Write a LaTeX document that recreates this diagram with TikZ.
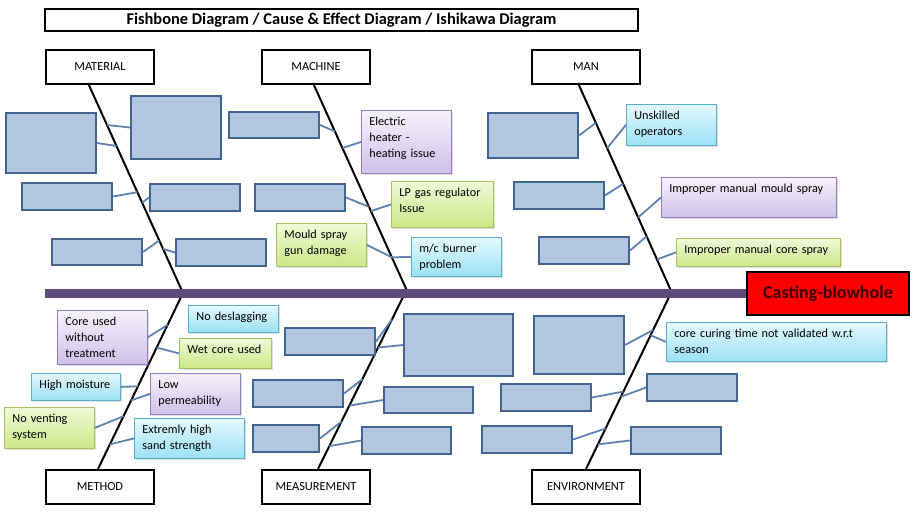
\documentclass[tikz,border=0pt]{standalone}
\usepackage{fontspec}
\setmainfont{Carlito}
\usetikzlibrary{calc,shadows}

\definecolor{holdfill}{RGB}{179,198,224}
\definecolor{holdline}{RGB}{65,100,145}
\definecolor{twigcol}{RGB}{95,130,175}
\definecolor{spinecol}{RGB}{95,75,125}
\definecolor{putop}{RGB}{246,242,252}
\definecolor{pubot}{RGB}{207,192,233}
\definecolor{puline}{RGB}{150,125,190}
\definecolor{grtop}{RGB}{240,250,215}
\definecolor{grbot}{RGB}{202,232,135}
\definecolor{grline}{RGB}{165,195,95}
\definecolor{cytop}{RGB}{228,249,254}
\definecolor{cybot}{RGB}{155,225,246}
\definecolor{cyline}{RGB}{90,175,205}
\definecolor{effcol}{RGB}{255,0,0}
\definecolor{efftext}{RGB}{60,0,0}

\tikzset{
    hold/.style 2 args={draw=holdline, fill=holdfill, line width=2pt, anchor=north west,
        inner sep=0pt, minimum width=#1pt, minimum height=#2pt},
    tbox/.style n args={3}{draw=#1line, top color=#1top, bottom color=#1bot, line width=0.8pt,
        anchor=north west, align=left, inner xsep=8pt, inner ysep=3pt,
        text width=#2pt-16pt, minimum height=#3pt, text height=12pt, text depth=#3pt-18pt,
        drop shadow={opacity=0.25, shadow xshift=1.5pt, shadow yshift=-1.5pt}},
    cat/.style={draw, line width=2pt, fill=white, anchor=north west, inner sep=0pt,
        minimum width=108pt, minimum height=34pt, font=\fontsize{12.4}{15}\selectfont},
    bone/.style={line width=2pt},
    twig/.style={draw=twigcol, line width=1.8pt},
}

\begin{document}
\begin{tikzpicture}[x=1pt, y=-1pt, font=\fontsize{12.2}{16}\selectfont]
    \useasboundingbox (0,0) rectangle (919,517);

    \node[draw, line width=2pt, minimum width=593pt, minimum height=22pt, inner sep=0pt,
        font=\fontsize{16.4}{18}\bfseries] (title) at (341.5,20)
        {Fishbone Diagram / Cause \& Effect Diagram / Ishikawa Diagram};

    \node[cat] (mat) at (45,49) {MATERIAL};
    \node[cat] (mac) at (261,49) {MACHINE};
    \node[cat] (man) at (531,49) {MAN};
    \node[cat] (met) at (45,469) {METHOD};
    \node[cat] (mea) at (261,469) {MEASUREMENT};
    \node[cat] (env) at (531,469) {ENVIRONMENT};

    \coordinate (mat1) at (88,83);   \coordinate (mat2) at (183,293);
    \coordinate (mac1) at (313,83);  \coordinate (mac2) at (408,293);
    \coordinate (man1) at (578,83);  \coordinate (man2) at (672,293);
    \coordinate (met1) at (183,293); \coordinate (met2) at (98,469);
    \coordinate (mea1) at (405,293); \coordinate (mea2) at (318,469);
    \coordinate (env1) at (671,293); \coordinate (env2) at (586,469);
    \coordinate (tail) at (45,293.5);

    \draw[bone] (mat1) -- (mat2);
    \draw[bone] (mac1) -- (mac2);
    \draw[bone] (man1) -- (man2);
    \draw[bone] (met1) -- (met2);
    \draw[bone] (mea1) -- (mea2);
    \draw[bone] (env1) -- (env2);

    \node[draw, line width=2pt, fill=effcol, minimum width=162pt, minimum height=43pt,
        inner sep=0pt, text=efftext, font=\fontsize{18}{20}\bfseries] (eff) at (828,293.5)
        {Casting-blowhole};
    \draw[draw=spinecol, line width=8.5pt] (tail) -- (eff.west);

    \node[hold={90}{60}] (b1) at (5,112) {};
    \node[hold={90}{63}] (b2) at (130,95) {};
    \node[hold={90}{26}] (b3) at (228,111) {};
    \node[hold={90}{27}] (b4) at (21,182) {};
    \node[hold={90}{27}] (b5) at (149,183) {};
    \node[hold={90}{27}] (b6) at (254,183) {};
    \node[hold={90}{26}] (b7) at (51,238) {};
    \node[hold={90}{27}] (b8) at (175,238) {};
    \node[hold={90}{45}] (b9) at (487,112) {};
    \node[hold={90}{27}] (b10) at (513,181) {};
    \node[hold={90}{27}] (b11) at (538,236) {};
    \node[hold={90}{27}] (b12) at (284,327) {};
    \node[hold={109}{62}] (b13) at (403,313) {};
    \node[hold={90}{27}] (b14) at (252,379) {};
    \node[hold={89}{26}] (b15) at (383,386) {};
    \node[hold={66}{27}] (b16) at (252,424) {};
    \node[hold={89}{27}] (b17) at (361,426) {};
    \node[hold={90}{58}] (b18) at (533,315) {};
    \node[hold={90}{27}] (b19) at (500,383) {};
    \node[hold={90}{27}] (b20) at (646,373) {};
    \node[hold={90}{27}] (b21) at (481,425) {};
    \node[hold={90}{27}] (b22) at (630,426) {};

    \node[tbox={pu}{90}{63}] (heat) at (361,110) {Electric\\heater -\\heating issue};
    \node[tbox={gr}{102}{46}] (lpg) at (391,181) {LP gas regulator\\Issue};
    \node[tbox={gr}{90}{43}] (gun) at (276,223) {Mould spray\\gun damage};
    \node[tbox={cy}{90}{39}] (burn) at (411,237) {m/c burner\\problem};
    \node[tbox={cy}{90}{41}] (unsk) at (626,104) {Unskilled\\operators};
    \node[tbox={pu}{175}{40}] (mspr) at (661,177) {Improper manual mould spray};
    \node[tbox={gr}{164}{28}] (cspr) at (676,238) {Improper manual core spray};
    \node[tbox={pu}{90}{54}] (core) at (57,310) {Core used\\without\\treatment};
    \node[tbox={cy}{90}{27}] (desl) at (188,305) {No deslagging};
    \node[tbox={gr}{92}{30}] (wet) at (179,338) {Wet core used};
    \node[tbox={cy}{89}{27}] (moist) at (31,373) {High moisture};
    \node[tbox={pu}{90}{41}] (perm) at (150,373) {Low\\permeability};
    \node[tbox={gr}{90}{41}] (vent) at (4,407) {No venting\\system};
    \node[tbox={cy}{110}{40}] (sand) at (134,418) {Extremly high\\sand strength};
    \node[tbox={cy}{220}{39}] (cure) at (666,322) {core curing time not validated w.r.t\\season};

    \draw[twig] (b1.east) -- ($(mat1)!.30!(mat2)$);
    \draw[twig] (b2.west) -- ($(mat1)!.20!(mat2)$);
    \draw[twig] (b4.east) -- ($(mat1)!.52!(mat2)$);
    \draw[twig] (b5.west) -- ($(mat1)!.57!(mat2)$);
    \draw[twig] (b7.east) -- ($(mat1)!.75!(mat2)$);
    \draw[twig] (b8.west) -- ($(mat1)!.79!(mat2)$);

    \draw[twig] (b3.east) -- ($(mac1)!.23!(mac2)$);
    \draw[twig] (heat.west) -- ($(mac1)!.31!(mac2)$);
    \draw[twig] (b6.east) -- ($(mac1)!.59!(mac2)$);
    \draw[twig] (lpg.west) -- ($(mac1)!.61!(mac2)$);
    \draw[twig] (gun.east) -- ($(mac1)!.83!(mac2)$);
    \draw[twig] (burn.west) -- ($(mac1)!.83!(mac2)$);

    \draw[twig] (b9.east) -- ($(man1)!.19!(man2)$);
    \draw[twig] (unsk.west) -- ($(man1)!.31!(man2)$);
    \draw[twig] (b10.east) -- ($(man1)!.48!(man2)$);
    \draw[twig] (mspr.west) -- ($(man1)!.64!(man2)$);
    \draw[twig] (b11.east) -- ($(man1)!.73!(man2)$);
    \draw[twig] (cspr.west) -- ($(man1)!.84!(man2)$);

    \draw[twig] (core.east) -- ($(met1)!.18!(met2)$);
    \draw[twig] (wet.west) -- ($(met1)!.31!(met2)$);
    \draw[twig] (moist.east) -- ($(met1)!.53!(met2)$);
    \draw[twig] (perm.west) -- ($(met1)!.61!(met2)$);
    \draw[twig] (vent.east) -- ($(met1)!.70!(met2)$);
    \draw[twig] (sand.west) -- ($(met1)!.86!(met2)$);

    \draw[twig] (b12.east) -- ($(mea1)!.15!(mea2)$);
    \draw[twig] (b13.west) -- ($(mea1)!.31!(mea2)$);
    \draw[twig] (b14.east) -- ($(mea1)!.49!(mea2)$);
    \draw[twig] (b15.west) -- ($(mea1)!.64!(mea2)$);
    \draw[twig] (b16.east) -- ($(mea1)!.73!(mea2)$);
    \draw[twig] (b17.west) -- ($(mea1)!.87!(mea2)$);

    \draw[twig] (b18.east) -- ($(env1)!.21!(env2)$);
    \draw[twig] (cure.west) -- ($(env1)!.24!(env2)$);
    \draw[twig] (b19.east) -- ($(env1)!.56!(env2)$);
    \draw[twig] (b20.west) -- ($(env1)!.59!(env2)$);
    \draw[twig] (b21.east) -- ($(env1)!.77!(env2)$);
    \draw[twig] (b22.west) -- ($(env1)!.86!(env2)$);
\end{tikzpicture}
\end{document}
